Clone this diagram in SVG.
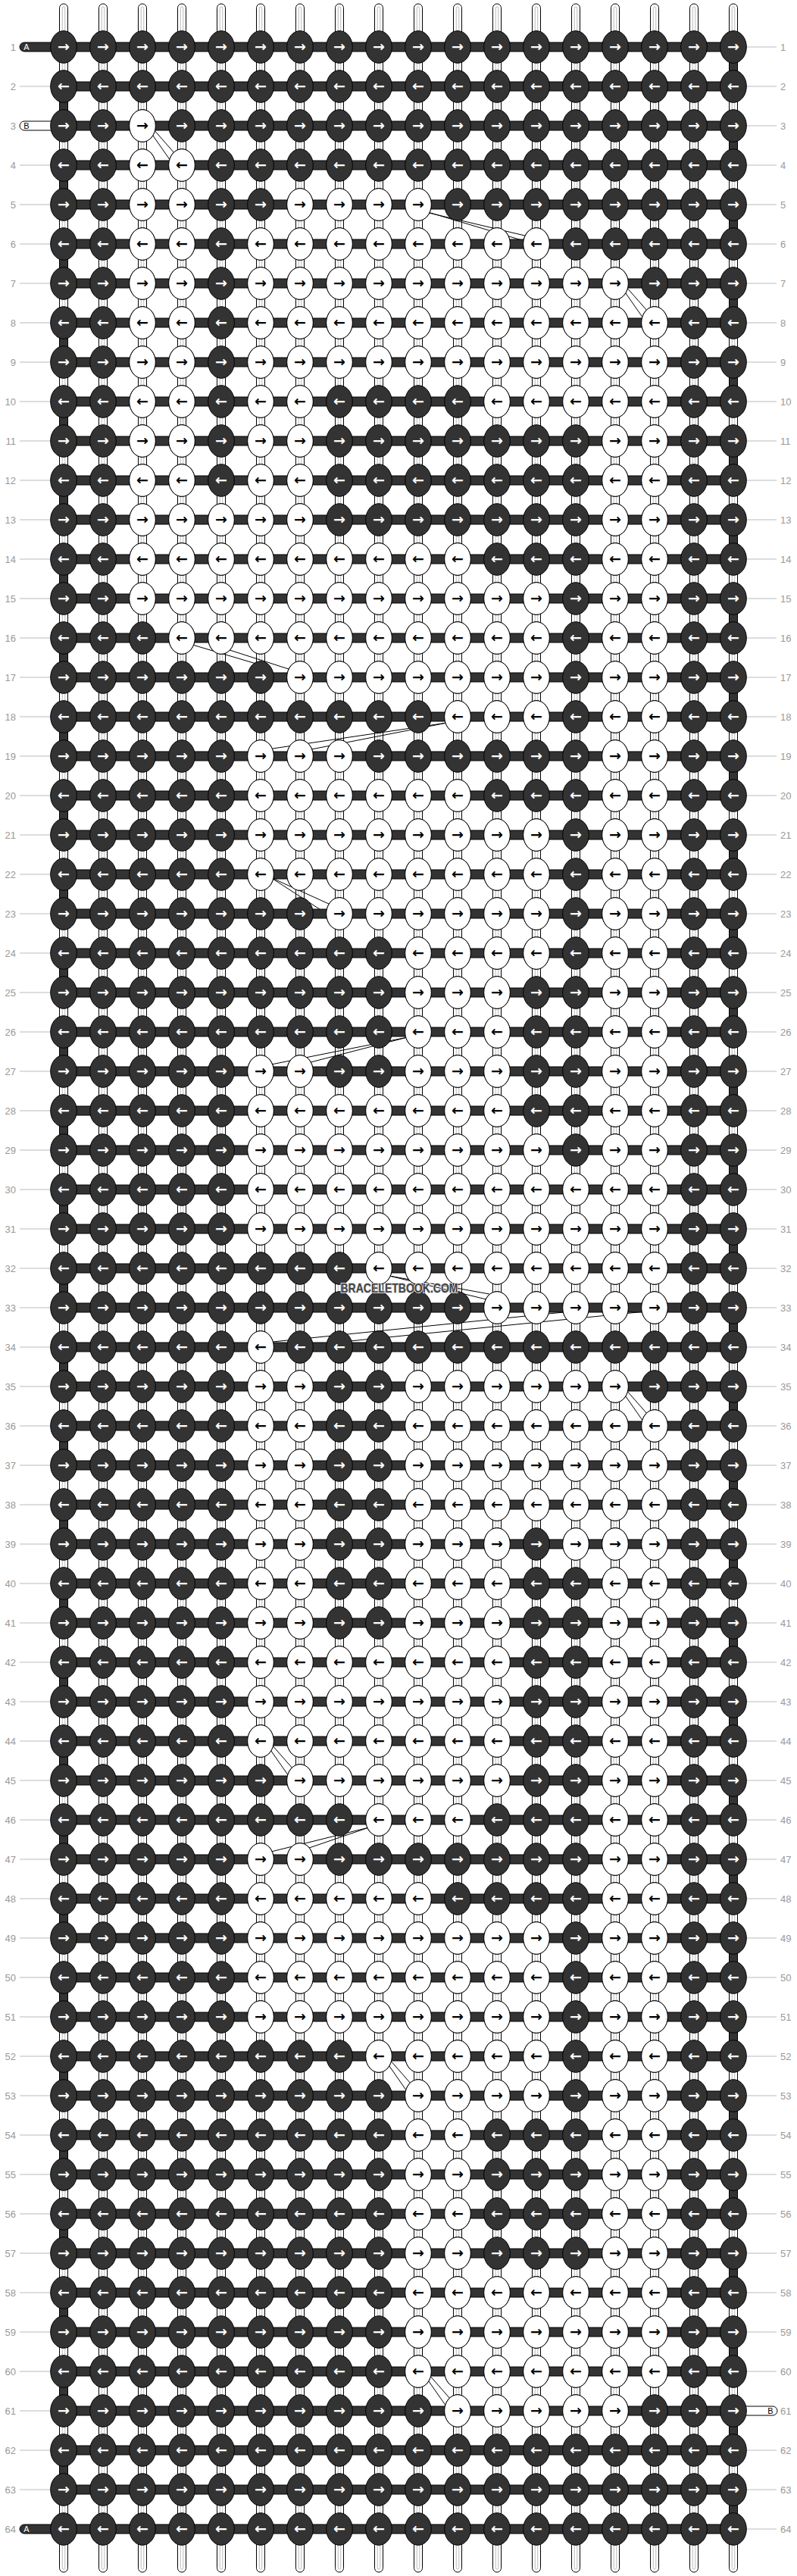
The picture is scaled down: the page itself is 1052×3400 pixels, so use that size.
<svg xmlns="http://www.w3.org/2000/svg" width="1052" height="3400" viewBox="0 0 1052 3400">
<style>
.vs{fill:#fff;stroke:#000;stroke-width:1}
.vi{fill:none;stroke:#bbb;stroke-width:1}
.hb{fill:#333;stroke:#000;stroke-width:1}
.eg{fill:#333;stroke:#000;stroke-width:1}
.dg{stroke:#000;stroke-width:1;fill:none}
.kd{fill:#333;stroke:#000;stroke-width:1}
.kw{fill:#fff;stroke:#000;stroke-width:1}
.ad{fill:#fff;font-family:"DejaVu Sans",sans-serif;font-weight:bold;font-size:19px;text-anchor:middle}
.aw{fill:#000;font-family:"DejaVu Sans",sans-serif;font-weight:bold;font-size:19px;text-anchor:middle}
.nl{fill:#999;font-family:"Liberation Sans",Arial,sans-serif;font-size:13px;text-anchor:end}
.nr{fill:#999;font-family:"Liberation Sans",Arial,sans-serif;font-size:13px;text-anchor:start}
.gl{stroke:#bbb;stroke-width:1;fill:none}
.pd{fill:#333;stroke:#000;stroke-width:1}
.pw{fill:#fff;stroke:#000;stroke-width:1}
.ptd{fill:#fff;font-family:"Liberation Sans",Arial,sans-serif;font-size:11px;text-anchor:middle}
.ptw{fill:#000;font-family:"Liberation Sans",Arial,sans-serif;font-size:11px;text-anchor:middle}
.wm{fill:#444;stroke:#ddd;stroke-width:2;paint-order:stroke;font-family:"Liberation Sans",Arial,sans-serif;font-weight:bold;font-size:17px;text-anchor:middle}
</style>
<defs>
<g id="col"><rect class="vs" x="-5.5" y="5" width="11" height="3390" rx="5.5"/><rect class="vi" x="-1.75" y="9" width="3.5" height="3382" rx="1.75"/></g>
<g id="a"><ellipse class="kd" rx="17.3" ry="21.3"/><text class="ad" y="6.3">→</text></g>
<g id="b"><ellipse class="kw" rx="17.3" ry="21.3"/><text class="aw" y="6.3">→</text></g>
<g id="c"><ellipse class="kd" rx="17.3" ry="21.3"/><text class="ad" y="6.3">←</text></g>
<g id="d"><ellipse class="kw" rx="17.3" ry="21.3"/><text class="aw" y="6.3">←</text></g>
<g id="R"><rect class="hb" x="84" y="-6" width="884" height="12"/><use href="#a" x="84"/><use href="#a" x="136"/><use href="#a" x="188"/><use href="#a" x="240"/><use href="#a" x="292"/><use href="#a" x="344"/><use href="#a" x="396"/><use href="#a" x="448"/><use href="#a" x="500"/><use href="#a" x="552"/><use href="#a" x="604"/><use href="#a" x="656"/><use href="#a" x="708"/><use href="#a" x="760"/><use href="#a" x="812"/><use href="#a" x="864"/><use href="#a" x="916"/><use href="#a" x="968"/></g>
<g id="L"><rect class="hb" x="84" y="-6" width="884" height="12"/><use href="#c" x="84"/><use href="#c" x="136"/><use href="#c" x="188"/><use href="#c" x="240"/><use href="#c" x="292"/><use href="#c" x="344"/><use href="#c" x="396"/><use href="#c" x="448"/><use href="#c" x="500"/><use href="#c" x="552"/><use href="#c" x="604"/><use href="#c" x="656"/><use href="#c" x="708"/><use href="#c" x="760"/><use href="#c" x="812"/><use href="#c" x="864"/><use href="#c" x="916"/><use href="#c" x="968"/></g>
<path id="glb" class="gl" d="M26 0H66M986 0H1025"/>
<path id="glr" class="gl" d="M986 0H1025"/>
<path id="gll" class="gl" d="M26 0H66"/>
</defs>
<rect width="1052" height="3400" fill="#fff"/>
<g id="strands">
<use href="#col" x="84"/><use href="#col" x="136"/><use href="#col" x="188"/><use href="#col" x="240"/><use href="#col" x="292"/><use href="#col" x="344"/><use href="#col" x="396"/><use href="#col" x="448"/><use href="#col" x="500"/><use href="#col" x="552"/><use href="#col" x="604"/><use href="#col" x="656"/><use href="#col" x="708"/><use href="#col" x="760"/><use href="#col" x="812"/><use href="#col" x="864"/><use href="#col" x="916"/><use href="#col" x="968"/>
</g>
<g id="edges">
<path class="eg" d="M962.5 77h11v22h-11zM962.5 181h11v22h-11zM962.5 285h11v22h-11zM962.5 389h11v22h-11zM962.5 493h11v22h-11zM962.5 597h11v22h-11zM962.5 701h11v22h-11zM962.5 805h11v22h-11zM962.5 909h11v22h-11zM962.5 1013h11v22h-11zM962.5 1117h11v22h-11zM962.5 1221h11v22h-11zM962.5 1325h11v22h-11zM962.5 1429h11v22h-11zM962.5 1533h11v22h-11zM962.5 1637h11v22h-11zM962.5 1741h11v22h-11zM962.5 1845h11v22h-11zM962.5 1949h11v22h-11zM962.5 2053h11v22h-11zM962.5 2157h11v22h-11zM962.5 2261h11v22h-11zM962.5 2365h11v22h-11zM962.5 2469h11v22h-11zM962.5 2573h11v22h-11zM962.5 2677h11v22h-11zM962.5 2781h11v22h-11zM962.5 2885h11v22h-11zM962.5 2989h11v22h-11zM962.5 3093h11v22h-11zM962.5 3197h11v22h-11zM962.5 3301h11v22h-11z"/>
<path class="eg" d="M78.5 129h11v22h-11zM78.5 233h11v22h-11zM78.5 337h11v22h-11zM78.5 441h11v22h-11zM78.5 545h11v22h-11zM78.5 649h11v22h-11zM78.5 753h11v22h-11zM78.5 857h11v22h-11zM78.5 961h11v22h-11zM78.5 1065h11v22h-11zM78.5 1169h11v22h-11zM78.5 1273h11v22h-11zM78.5 1377h11v22h-11zM78.5 1481h11v22h-11zM78.5 1585h11v22h-11zM78.5 1689h11v22h-11zM78.5 1793h11v22h-11zM78.5 1897h11v22h-11zM78.5 2001h11v22h-11zM78.5 2105h11v22h-11zM78.5 2209h11v22h-11zM78.5 2313h11v22h-11zM78.5 2417h11v22h-11zM78.5 2521h11v22h-11zM78.5 2625h11v22h-11zM78.5 2729h11v22h-11zM78.5 2833h11v22h-11zM78.5 2937h11v22h-11zM78.5 3041h11v22h-11zM78.5 3145h11v22h-11zM78.5 3249h11v22h-11z"/>
</g>
<g id="connectors" class="dg">
<path d="M197 172L225 212M202 170L231 203"/>
<path d="M562 280L697 312M565 280L692 318"/>
<path d="M821 380L849 420M826 378L855 411"/>
<path d="M254 851L338 876M300 857L384 884"/>
<path d="M590 954L360 988M590 954L411 989"/>
<path d="M357 1158L434 1193M357 1158L425 1202"/>
<path d="M538 1369L358 1405M538 1369L410 1402"/>
<path d="M514 1684L642 1715M514 1684L646 1708"/>
<path d="M852 1721L360 1771M852 1731L412 1775"/>
<path d="M821 1836L849 1876M826 1834L855 1867"/>
<path d="M353 2304L381 2344M358 2302L387 2335"/>
<path d="M487 2412L358 2444M487 2412L408 2439"/>
<path d="M509 2720L537 2760M514 2718L543 2751"/>
<path d="M561 3136L589 3176M566 3134L595 3167"/>
</g>
<g id="rows">
<g id="row1" transform="translate(0,62)"><path class="pd" d="M70 -6H32a6 6 0 0 0 0 12H70z"/><text class="ptd" x="35" y="4">A</text><use href="#glr"/><use href="#R"/><text class="nl" x="21" y="4.5">1</text><text class="nr" x="1030" y="4.5">1</text></g>
<g id="row2" transform="translate(0,114)"><use href="#glb"/><use href="#L"/><text class="nl" x="21" y="4.5">2</text><text class="nr" x="1030" y="4.5">2</text></g>
<g id="row3" transform="translate(0,166)"><path class="pw" d="M70 -6H32a6 6 0 0 0 0 12H70z"/><text class="ptw" x="35" y="4">B</text><use href="#glr"/><use href="#R"/><use href="#b" x="188"/><text class="nl" x="21" y="4.5">3</text><text class="nr" x="1030" y="4.5">3</text></g>
<g id="row4" transform="translate(0,218)"><use href="#glb"/><use href="#L"/><use href="#d" x="188"/><use href="#d" x="240"/><text class="nl" x="21" y="4.5">4</text><text class="nr" x="1030" y="4.5">4</text></g>
<g id="row5" transform="translate(0,270)"><use href="#glb"/><use href="#R"/><use href="#b" x="188"/><use href="#b" x="240"/><use href="#b" x="396"/><use href="#b" x="448"/><use href="#b" x="500"/><use href="#b" x="552"/><text class="nl" x="21" y="4.5">5</text><text class="nr" x="1030" y="4.5">5</text></g>
<g id="row6" transform="translate(0,322)"><use href="#glb"/><use href="#L"/><use href="#d" x="188"/><use href="#d" x="240"/><use href="#d" x="344"/><use href="#d" x="396"/><use href="#d" x="448"/><use href="#d" x="500"/><use href="#d" x="552"/><use href="#d" x="604"/><use href="#d" x="656"/><use href="#d" x="708"/><text class="nl" x="21" y="4.5">6</text><text class="nr" x="1030" y="4.5">6</text></g>
<g id="row7" transform="translate(0,374)"><use href="#glb"/><use href="#R"/><use href="#b" x="188"/><use href="#b" x="240"/><use href="#b" x="344"/><use href="#b" x="396"/><use href="#b" x="448"/><use href="#b" x="500"/><use href="#b" x="552"/><use href="#b" x="604"/><use href="#b" x="656"/><use href="#b" x="708"/><use href="#b" x="760"/><use href="#b" x="812"/><text class="nl" x="21" y="4.5">7</text><text class="nr" x="1030" y="4.5">7</text></g>
<g id="row8" transform="translate(0,426)"><use href="#glb"/><use href="#L"/><use href="#d" x="188"/><use href="#d" x="240"/><use href="#d" x="344"/><use href="#d" x="396"/><use href="#d" x="448"/><use href="#d" x="500"/><use href="#d" x="552"/><use href="#d" x="604"/><use href="#d" x="656"/><use href="#d" x="708"/><use href="#d" x="760"/><use href="#d" x="812"/><use href="#d" x="864"/><text class="nl" x="21" y="4.5">8</text><text class="nr" x="1030" y="4.5">8</text></g>
<g id="row9" transform="translate(0,478)"><use href="#glb"/><use href="#R"/><use href="#b" x="188"/><use href="#b" x="240"/><use href="#b" x="344"/><use href="#b" x="396"/><use href="#b" x="448"/><use href="#b" x="500"/><use href="#b" x="552"/><use href="#b" x="604"/><use href="#b" x="656"/><use href="#b" x="708"/><use href="#b" x="760"/><use href="#b" x="812"/><use href="#b" x="864"/><text class="nl" x="21" y="4.5">9</text><text class="nr" x="1030" y="4.5">9</text></g>
<g id="row10" transform="translate(0,530)"><use href="#glb"/><use href="#L"/><use href="#d" x="188"/><use href="#d" x="240"/><use href="#d" x="344"/><use href="#d" x="396"/><use href="#d" x="656"/><use href="#d" x="708"/><use href="#d" x="760"/><use href="#d" x="812"/><use href="#d" x="864"/><text class="nl" x="21" y="4.5">10</text><text class="nr" x="1030" y="4.5">10</text></g>
<g id="row11" transform="translate(0,582)"><use href="#glb"/><use href="#R"/><use href="#b" x="188"/><use href="#b" x="240"/><use href="#b" x="344"/><use href="#b" x="396"/><use href="#b" x="812"/><use href="#b" x="864"/><text class="nl" x="21" y="4.5">11</text><text class="nr" x="1030" y="4.5">11</text></g>
<g id="row12" transform="translate(0,634)"><use href="#glb"/><use href="#L"/><use href="#d" x="188"/><use href="#d" x="240"/><use href="#d" x="344"/><use href="#d" x="396"/><use href="#d" x="812"/><use href="#d" x="864"/><text class="nl" x="21" y="4.5">12</text><text class="nr" x="1030" y="4.5">12</text></g>
<g id="row13" transform="translate(0,686)"><use href="#glb"/><use href="#R"/><use href="#b" x="188"/><use href="#b" x="240"/><use href="#b" x="292"/><use href="#b" x="344"/><use href="#b" x="396"/><use href="#b" x="812"/><use href="#b" x="864"/><text class="nl" x="21" y="4.5">13</text><text class="nr" x="1030" y="4.5">13</text></g>
<g id="row14" transform="translate(0,738)"><use href="#glb"/><use href="#L"/><use href="#d" x="188"/><use href="#d" x="240"/><use href="#d" x="292"/><use href="#d" x="344"/><use href="#d" x="396"/><use href="#d" x="448"/><use href="#d" x="500"/><use href="#d" x="552"/><use href="#d" x="604"/><use href="#d" x="812"/><use href="#d" x="864"/><text class="nl" x="21" y="4.5">14</text><text class="nr" x="1030" y="4.5">14</text></g>
<g id="row15" transform="translate(0,790)"><use href="#glb"/><use href="#R"/><use href="#b" x="188"/><use href="#b" x="240"/><use href="#b" x="292"/><use href="#b" x="344"/><use href="#b" x="396"/><use href="#b" x="448"/><use href="#b" x="500"/><use href="#b" x="552"/><use href="#b" x="604"/><use href="#b" x="656"/><use href="#b" x="708"/><use href="#b" x="812"/><use href="#b" x="864"/><text class="nl" x="21" y="4.5">15</text><text class="nr" x="1030" y="4.5">15</text></g>
<g id="row16" transform="translate(0,842)"><use href="#glb"/><use href="#L"/><use href="#d" x="240"/><use href="#d" x="292"/><use href="#d" x="344"/><use href="#d" x="396"/><use href="#d" x="448"/><use href="#d" x="500"/><use href="#d" x="552"/><use href="#d" x="604"/><use href="#d" x="656"/><use href="#d" x="708"/><use href="#d" x="812"/><use href="#d" x="864"/><text class="nl" x="21" y="4.5">16</text><text class="nr" x="1030" y="4.5">16</text></g>
<g id="row17" transform="translate(0,894)"><use href="#glb"/><use href="#R"/><use href="#b" x="396"/><use href="#b" x="448"/><use href="#b" x="500"/><use href="#b" x="552"/><use href="#b" x="604"/><use href="#b" x="656"/><use href="#b" x="708"/><use href="#b" x="812"/><use href="#b" x="864"/><text class="nl" x="21" y="4.5">17</text><text class="nr" x="1030" y="4.5">17</text></g>
<g id="row18" transform="translate(0,946)"><use href="#glb"/><use href="#L"/><use href="#d" x="604"/><use href="#d" x="656"/><use href="#d" x="708"/><use href="#d" x="812"/><use href="#d" x="864"/><text class="nl" x="21" y="4.5">18</text><text class="nr" x="1030" y="4.5">18</text></g>
<g id="row19" transform="translate(0,998)"><use href="#glb"/><use href="#R"/><use href="#b" x="344"/><use href="#b" x="396"/><use href="#b" x="448"/><use href="#b" x="812"/><use href="#b" x="864"/><text class="nl" x="21" y="4.5">19</text><text class="nr" x="1030" y="4.5">19</text></g>
<g id="row20" transform="translate(0,1050)"><use href="#glb"/><use href="#L"/><use href="#d" x="344"/><use href="#d" x="396"/><use href="#d" x="448"/><use href="#d" x="500"/><use href="#d" x="552"/><use href="#d" x="604"/><use href="#d" x="812"/><use href="#d" x="864"/><text class="nl" x="21" y="4.5">20</text><text class="nr" x="1030" y="4.5">20</text></g>
<g id="row21" transform="translate(0,1102)"><use href="#glb"/><use href="#R"/><use href="#b" x="344"/><use href="#b" x="396"/><use href="#b" x="448"/><use href="#b" x="500"/><use href="#b" x="552"/><use href="#b" x="604"/><use href="#b" x="656"/><use href="#b" x="708"/><use href="#b" x="812"/><use href="#b" x="864"/><text class="nl" x="21" y="4.5">21</text><text class="nr" x="1030" y="4.5">21</text></g>
<g id="row22" transform="translate(0,1154)"><use href="#glb"/><use href="#L"/><use href="#d" x="344"/><use href="#d" x="396"/><use href="#d" x="448"/><use href="#d" x="500"/><use href="#d" x="552"/><use href="#d" x="604"/><use href="#d" x="656"/><use href="#d" x="708"/><use href="#d" x="812"/><use href="#d" x="864"/><text class="nl" x="21" y="4.5">22</text><text class="nr" x="1030" y="4.5">22</text></g>
<g id="row23" transform="translate(0,1206)"><use href="#glb"/><use href="#R"/><use href="#b" x="448"/><use href="#b" x="500"/><use href="#b" x="552"/><use href="#b" x="604"/><use href="#b" x="656"/><use href="#b" x="708"/><use href="#b" x="812"/><use href="#b" x="864"/><text class="nl" x="21" y="4.5">23</text><text class="nr" x="1030" y="4.5">23</text></g>
<g id="row24" transform="translate(0,1258)"><use href="#glb"/><use href="#L"/><use href="#d" x="552"/><use href="#d" x="604"/><use href="#d" x="656"/><use href="#d" x="708"/><use href="#d" x="812"/><use href="#d" x="864"/><text class="nl" x="21" y="4.5">24</text><text class="nr" x="1030" y="4.5">24</text></g>
<g id="row25" transform="translate(0,1310)"><use href="#glb"/><use href="#R"/><use href="#b" x="552"/><use href="#b" x="604"/><use href="#b" x="656"/><use href="#b" x="812"/><use href="#b" x="864"/><text class="nl" x="21" y="4.5">25</text><text class="nr" x="1030" y="4.5">25</text></g>
<g id="row26" transform="translate(0,1362)"><use href="#glb"/><use href="#L"/><use href="#d" x="552"/><use href="#d" x="604"/><use href="#d" x="656"/><use href="#d" x="812"/><use href="#d" x="864"/><text class="nl" x="21" y="4.5">26</text><text class="nr" x="1030" y="4.5">26</text></g>
<g id="row27" transform="translate(0,1414)"><use href="#glb"/><use href="#R"/><use href="#b" x="344"/><use href="#b" x="396"/><use href="#b" x="552"/><use href="#b" x="604"/><use href="#b" x="656"/><use href="#b" x="812"/><use href="#b" x="864"/><text class="nl" x="21" y="4.5">27</text><text class="nr" x="1030" y="4.5">27</text></g>
<g id="row28" transform="translate(0,1466)"><use href="#glb"/><use href="#L"/><use href="#d" x="344"/><use href="#d" x="396"/><use href="#d" x="448"/><use href="#d" x="500"/><use href="#d" x="552"/><use href="#d" x="604"/><use href="#d" x="656"/><use href="#d" x="812"/><use href="#d" x="864"/><text class="nl" x="21" y="4.5">28</text><text class="nr" x="1030" y="4.5">28</text></g>
<g id="row29" transform="translate(0,1518)"><use href="#glb"/><use href="#R"/><use href="#b" x="344"/><use href="#b" x="396"/><use href="#b" x="448"/><use href="#b" x="500"/><use href="#b" x="552"/><use href="#b" x="604"/><use href="#b" x="656"/><use href="#b" x="708"/><use href="#b" x="812"/><use href="#b" x="864"/><text class="nl" x="21" y="4.5">29</text><text class="nr" x="1030" y="4.5">29</text></g>
<g id="row30" transform="translate(0,1570)"><use href="#glb"/><use href="#L"/><use href="#d" x="344"/><use href="#d" x="396"/><use href="#d" x="448"/><use href="#d" x="500"/><use href="#d" x="552"/><use href="#d" x="604"/><use href="#d" x="656"/><use href="#d" x="708"/><use href="#d" x="760"/><use href="#d" x="812"/><use href="#d" x="864"/><text class="nl" x="21" y="4.5">30</text><text class="nr" x="1030" y="4.5">30</text></g>
<g id="row31" transform="translate(0,1622)"><use href="#glb"/><use href="#R"/><use href="#b" x="344"/><use href="#b" x="396"/><use href="#b" x="448"/><use href="#b" x="500"/><use href="#b" x="552"/><use href="#b" x="604"/><use href="#b" x="656"/><use href="#b" x="708"/><use href="#b" x="760"/><use href="#b" x="812"/><use href="#b" x="864"/><text class="nl" x="21" y="4.5">31</text><text class="nr" x="1030" y="4.5">31</text></g>
<g id="row32" transform="translate(0,1674)"><use href="#glb"/><use href="#L"/><use href="#d" x="500"/><use href="#d" x="552"/><use href="#d" x="604"/><use href="#d" x="656"/><use href="#d" x="708"/><use href="#d" x="760"/><use href="#d" x="812"/><use href="#d" x="864"/><text class="nl" x="21" y="4.5">32</text><text class="nr" x="1030" y="4.5">32</text></g>
<g id="row33" transform="translate(0,1726)"><use href="#glb"/><use href="#R"/><use href="#b" x="656"/><use href="#b" x="708"/><use href="#b" x="760"/><use href="#b" x="812"/><use href="#b" x="864"/><text class="nl" x="21" y="4.5">33</text><text class="nr" x="1030" y="4.5">33</text></g>
<g id="row34" transform="translate(0,1778)"><use href="#glb"/><use href="#L"/><use href="#d" x="344"/><text class="nl" x="21" y="4.5">34</text><text class="nr" x="1030" y="4.5">34</text></g>
<g id="row35" transform="translate(0,1830)"><use href="#glb"/><use href="#R"/><use href="#b" x="344"/><use href="#b" x="396"/><use href="#b" x="552"/><use href="#b" x="604"/><use href="#b" x="656"/><use href="#b" x="708"/><use href="#b" x="760"/><use href="#b" x="812"/><text class="nl" x="21" y="4.5">35</text><text class="nr" x="1030" y="4.5">35</text></g>
<g id="row36" transform="translate(0,1882)"><use href="#glb"/><use href="#L"/><use href="#d" x="344"/><use href="#d" x="396"/><use href="#d" x="552"/><use href="#d" x="604"/><use href="#d" x="656"/><use href="#d" x="708"/><use href="#d" x="760"/><use href="#d" x="812"/><use href="#d" x="864"/><text class="nl" x="21" y="4.5">36</text><text class="nr" x="1030" y="4.5">36</text></g>
<g id="row37" transform="translate(0,1934)"><use href="#glb"/><use href="#R"/><use href="#b" x="344"/><use href="#b" x="396"/><use href="#b" x="552"/><use href="#b" x="604"/><use href="#b" x="656"/><use href="#b" x="708"/><use href="#b" x="760"/><use href="#b" x="812"/><use href="#b" x="864"/><text class="nl" x="21" y="4.5">37</text><text class="nr" x="1030" y="4.5">37</text></g>
<g id="row38" transform="translate(0,1986)"><use href="#glb"/><use href="#L"/><use href="#d" x="344"/><use href="#d" x="396"/><use href="#d" x="552"/><use href="#d" x="604"/><use href="#d" x="656"/><use href="#d" x="708"/><use href="#d" x="760"/><use href="#d" x="812"/><use href="#d" x="864"/><text class="nl" x="21" y="4.5">38</text><text class="nr" x="1030" y="4.5">38</text></g>
<g id="row39" transform="translate(0,2038)"><use href="#glb"/><use href="#R"/><use href="#b" x="344"/><use href="#b" x="396"/><use href="#b" x="552"/><use href="#b" x="604"/><use href="#b" x="656"/><use href="#b" x="760"/><use href="#b" x="812"/><use href="#b" x="864"/><text class="nl" x="21" y="4.5">39</text><text class="nr" x="1030" y="4.5">39</text></g>
<g id="row40" transform="translate(0,2090)"><use href="#glb"/><use href="#L"/><use href="#d" x="344"/><use href="#d" x="396"/><use href="#d" x="552"/><use href="#d" x="604"/><use href="#d" x="656"/><use href="#d" x="812"/><use href="#d" x="864"/><text class="nl" x="21" y="4.5">40</text><text class="nr" x="1030" y="4.5">40</text></g>
<g id="row41" transform="translate(0,2142)"><use href="#glb"/><use href="#R"/><use href="#b" x="344"/><use href="#b" x="396"/><use href="#b" x="552"/><use href="#b" x="604"/><use href="#b" x="656"/><use href="#b" x="812"/><use href="#b" x="864"/><text class="nl" x="21" y="4.5">41</text><text class="nr" x="1030" y="4.5">41</text></g>
<g id="row42" transform="translate(0,2194)"><use href="#glb"/><use href="#L"/><use href="#d" x="344"/><use href="#d" x="396"/><use href="#d" x="448"/><use href="#d" x="500"/><use href="#d" x="552"/><use href="#d" x="604"/><use href="#d" x="656"/><use href="#d" x="812"/><use href="#d" x="864"/><text class="nl" x="21" y="4.5">42</text><text class="nr" x="1030" y="4.5">42</text></g>
<g id="row43" transform="translate(0,2246)"><use href="#glb"/><use href="#R"/><use href="#b" x="344"/><use href="#b" x="396"/><use href="#b" x="448"/><use href="#b" x="500"/><use href="#b" x="552"/><use href="#b" x="604"/><use href="#b" x="656"/><use href="#b" x="812"/><use href="#b" x="864"/><text class="nl" x="21" y="4.5">43</text><text class="nr" x="1030" y="4.5">43</text></g>
<g id="row44" transform="translate(0,2298)"><use href="#glb"/><use href="#L"/><use href="#d" x="344"/><use href="#d" x="396"/><use href="#d" x="448"/><use href="#d" x="500"/><use href="#d" x="552"/><use href="#d" x="604"/><use href="#d" x="656"/><use href="#d" x="812"/><use href="#d" x="864"/><text class="nl" x="21" y="4.5">44</text><text class="nr" x="1030" y="4.5">44</text></g>
<g id="row45" transform="translate(0,2350)"><use href="#glb"/><use href="#R"/><use href="#b" x="396"/><use href="#b" x="448"/><use href="#b" x="500"/><use href="#b" x="552"/><use href="#b" x="604"/><use href="#b" x="656"/><use href="#b" x="812"/><use href="#b" x="864"/><text class="nl" x="21" y="4.5">45</text><text class="nr" x="1030" y="4.5">45</text></g>
<g id="row46" transform="translate(0,2402)"><use href="#glb"/><use href="#L"/><use href="#d" x="500"/><use href="#d" x="552"/><use href="#d" x="604"/><use href="#d" x="812"/><use href="#d" x="864"/><text class="nl" x="21" y="4.5">46</text><text class="nr" x="1030" y="4.5">46</text></g>
<g id="row47" transform="translate(0,2454)"><use href="#glb"/><use href="#R"/><use href="#b" x="344"/><use href="#b" x="396"/><use href="#b" x="812"/><use href="#b" x="864"/><text class="nl" x="21" y="4.5">47</text><text class="nr" x="1030" y="4.5">47</text></g>
<g id="row48" transform="translate(0,2506)"><use href="#glb"/><use href="#L"/><use href="#d" x="344"/><use href="#d" x="396"/><use href="#d" x="448"/><use href="#d" x="500"/><use href="#d" x="552"/><use href="#d" x="812"/><use href="#d" x="864"/><text class="nl" x="21" y="4.5">48</text><text class="nr" x="1030" y="4.5">48</text></g>
<g id="row49" transform="translate(0,2558)"><use href="#glb"/><use href="#R"/><use href="#b" x="344"/><use href="#b" x="396"/><use href="#b" x="448"/><use href="#b" x="500"/><use href="#b" x="552"/><use href="#b" x="604"/><use href="#b" x="656"/><use href="#b" x="708"/><use href="#b" x="812"/><use href="#b" x="864"/><text class="nl" x="21" y="4.5">49</text><text class="nr" x="1030" y="4.5">49</text></g>
<g id="row50" transform="translate(0,2610)"><use href="#glb"/><use href="#L"/><use href="#d" x="344"/><use href="#d" x="396"/><use href="#d" x="448"/><use href="#d" x="500"/><use href="#d" x="552"/><use href="#d" x="604"/><use href="#d" x="656"/><use href="#d" x="708"/><use href="#d" x="812"/><use href="#d" x="864"/><text class="nl" x="21" y="4.5">50</text><text class="nr" x="1030" y="4.5">50</text></g>
<g id="row51" transform="translate(0,2662)"><use href="#glb"/><use href="#R"/><use href="#b" x="344"/><use href="#b" x="396"/><use href="#b" x="448"/><use href="#b" x="500"/><use href="#b" x="552"/><use href="#b" x="604"/><use href="#b" x="656"/><use href="#b" x="708"/><use href="#b" x="812"/><use href="#b" x="864"/><text class="nl" x="21" y="4.5">51</text><text class="nr" x="1030" y="4.5">51</text></g>
<g id="row52" transform="translate(0,2714)"><use href="#glb"/><use href="#L"/><use href="#d" x="500"/><use href="#d" x="552"/><use href="#d" x="604"/><use href="#d" x="656"/><use href="#d" x="708"/><use href="#d" x="812"/><use href="#d" x="864"/><text class="nl" x="21" y="4.5">52</text><text class="nr" x="1030" y="4.5">52</text></g>
<g id="row53" transform="translate(0,2766)"><use href="#glb"/><use href="#R"/><use href="#b" x="552"/><use href="#b" x="604"/><use href="#b" x="656"/><use href="#b" x="708"/><use href="#b" x="812"/><use href="#b" x="864"/><text class="nl" x="21" y="4.5">53</text><text class="nr" x="1030" y="4.5">53</text></g>
<g id="row54" transform="translate(0,2818)"><use href="#glb"/><use href="#L"/><use href="#d" x="552"/><use href="#d" x="604"/><use href="#d" x="812"/><use href="#d" x="864"/><text class="nl" x="21" y="4.5">54</text><text class="nr" x="1030" y="4.5">54</text></g>
<g id="row55" transform="translate(0,2870)"><use href="#glb"/><use href="#R"/><use href="#b" x="552"/><use href="#b" x="604"/><use href="#b" x="812"/><use href="#b" x="864"/><text class="nl" x="21" y="4.5">55</text><text class="nr" x="1030" y="4.5">55</text></g>
<g id="row56" transform="translate(0,2922)"><use href="#glb"/><use href="#L"/><use href="#d" x="552"/><use href="#d" x="604"/><use href="#d" x="812"/><use href="#d" x="864"/><text class="nl" x="21" y="4.5">56</text><text class="nr" x="1030" y="4.5">56</text></g>
<g id="row57" transform="translate(0,2974)"><use href="#glb"/><use href="#R"/><use href="#b" x="552"/><use href="#b" x="604"/><use href="#b" x="812"/><use href="#b" x="864"/><text class="nl" x="21" y="4.5">57</text><text class="nr" x="1030" y="4.5">57</text></g>
<g id="row58" transform="translate(0,3026)"><use href="#glb"/><use href="#L"/><use href="#d" x="552"/><use href="#d" x="604"/><use href="#d" x="656"/><use href="#d" x="708"/><use href="#d" x="760"/><use href="#d" x="812"/><use href="#d" x="864"/><text class="nl" x="21" y="4.5">58</text><text class="nr" x="1030" y="4.5">58</text></g>
<g id="row59" transform="translate(0,3078)"><use href="#glb"/><use href="#R"/><use href="#b" x="552"/><use href="#b" x="604"/><use href="#b" x="656"/><use href="#b" x="708"/><use href="#b" x="760"/><use href="#b" x="812"/><use href="#b" x="864"/><text class="nl" x="21" y="4.5">59</text><text class="nr" x="1030" y="4.5">59</text></g>
<g id="row60" transform="translate(0,3130)"><use href="#glb"/><use href="#L"/><use href="#d" x="552"/><use href="#d" x="604"/><use href="#d" x="656"/><use href="#d" x="708"/><use href="#d" x="760"/><use href="#d" x="812"/><use href="#d" x="864"/><text class="nl" x="21" y="4.5">60</text><text class="nr" x="1030" y="4.5">60</text></g>
<g id="row61" transform="translate(0,3182)"><path class="pw" d="M982 -6H1020a6 6 0 0 1 0 12H982z"/><text class="ptw" x="1017" y="4">B</text><use href="#gll"/><use href="#R"/><use href="#b" x="604"/><use href="#b" x="656"/><use href="#b" x="708"/><use href="#b" x="760"/><use href="#b" x="812"/><text class="nl" x="21" y="4.5">61</text><text class="nr" x="1030" y="4.5">61</text></g>
<g id="row62" transform="translate(0,3234)"><use href="#glb"/><use href="#L"/><text class="nl" x="21" y="4.5">62</text><text class="nr" x="1030" y="4.5">62</text></g>
<g id="row63" transform="translate(0,3286)"><use href="#glb"/><use href="#R"/><text class="nl" x="21" y="4.5">63</text><text class="nr" x="1030" y="4.5">63</text></g>
<g id="row64" transform="translate(0,3338)"><path class="pd" d="M70 -6H32a6 6 0 0 0 0 12H70z"/><text class="ptd" x="35" y="4">A</text><use href="#glr"/><use href="#L"/><text class="nl" x="21" y="4.5">64</text><text class="nr" x="1030" y="4.5">64</text></g>
</g>
<text class="wm" x="527" y="1706" textLength="155" lengthAdjust="spacingAndGlyphs">BRACELETBOOK.COM</text>
</svg>
